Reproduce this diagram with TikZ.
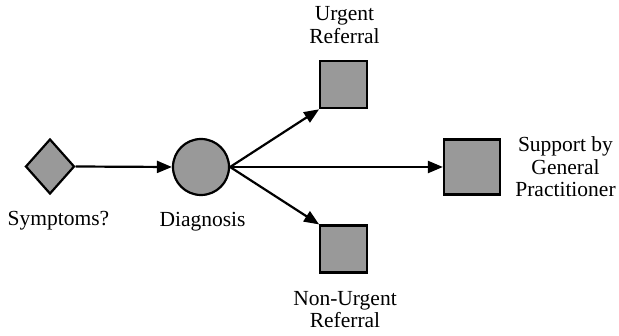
\documentclass[tikz,border=0pt]{standalone}
\usepackage{fontspec}
\setmainfont{Liberation Serif}
\newfontfamily\lblfont{Liberation Serif}
\usetikzlibrary{shapes.geometric,arrows.meta}
\definecolor{boxgray}{RGB}{153,153,153}
\tikzset{
  shapebase/.style={draw=black, line width=2.2pt, fill=boxgray, inner sep=0pt},
  decision/.style={shapebase, diamond, minimum width=49pt, minimum height=55pt},
  chance/.style={shapebase, circle, minimum size=56pt},
  terminal/.style={shapebase, rectangle, minimum width=47pt, minimum height=47pt},
  bigterminal/.style={shapebase, rectangle, minimum width=56pt, minimum height=55pt},
  lbl/.style={inner sep=0pt, anchor=base, align=center, font=\lblfont\fontsize{21.5}{22.5}\selectfont},
  conn/.style={line width=2.2pt, -{Triangle[length=15pt,width=12pt]}}
}
\begin{document}
\begin{tikzpicture}[x=1pt,y=1pt]
\useasboundingbox (0,0) rectangle (619,335);
\node[decision] (sym) at (50,168.5) {};
\node[chance] (diag) at (201,168) {};
\node[terminal] (urg) at (343.7,250.3) {};
\node[terminal] (nonurg) at (343.7,86) {};
\node[bigterminal] (gp) at (472,168) {};
\node[lbl] (symlbl) at (58.5,109) {Symptoms?};
\node[lbl] (diaglbl) at (202.5,108) {Diagnosis};
\node[lbl] (urglbl) at (344.5,291.5) {Urgent\\Referral};
\node[lbl] (nonurglbl) at (345,7.3) {Non-Urgent\\Referral};
\node[lbl] (gplbl) at (565.5,138.3) {Support by\\General\\Practitioner};
\draw[conn] (sym.east) -- (diag.west);
\draw[conn] (diag.east) -- (urg.south west);
\draw[conn] (diag.east) -- (nonurg.north west);
\draw[conn] (diag.east) -- (gp.west);
\end{tikzpicture}
\end{document}
